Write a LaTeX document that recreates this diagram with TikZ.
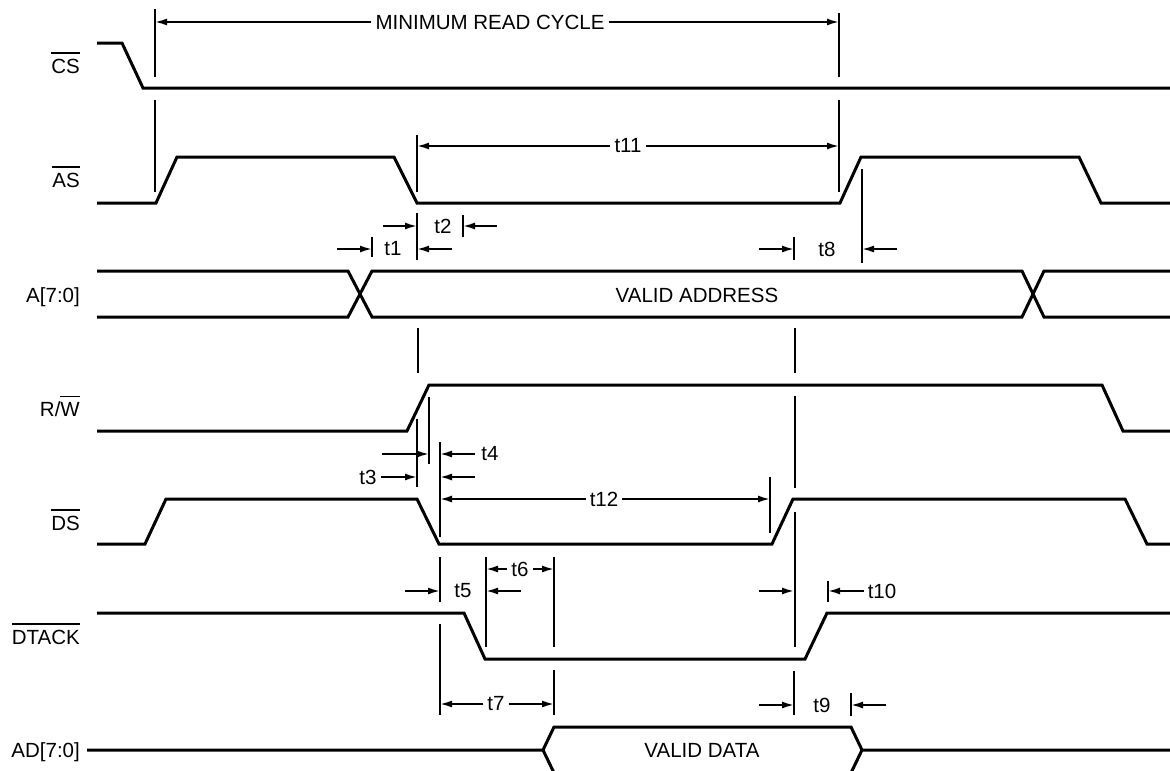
\documentclass[tikz,border=0pt]{standalone}
\usepackage{fontspec}
\setmainfont{Liberation Sans}
\usetikzlibrary{arrows.meta}
\newcommand{\ovl}[1]{\vbox{\hrule height 1.8pt\kern 4.5pt\hbox{#1}}}

\begin{document}
\begin{tikzpicture}[x=1pt, y=-1pt,
  sig/.style={line width=3pt},
  tick/.style={line width=1.8pt},
  dim/.style={line width=1.8pt, -{Latex[length=12pt,width=7pt]}},
  lbl/.style={anchor=base east, inner sep=0pt, font=\fontsize{20.5}{24}\selectfont},
  tlbl/.style={inner sep=4pt, font=\fontsize{20.5}{24}\selectfont}]

\useasboundingbox (0,0) rectangle (1170,771);

% signal names
\node[lbl] (cs) at (80,73) {\ovl{CS}};
\node[lbl] (as) at (80,187) {\ovl{AS}};
\node[lbl] (addr) at (80,302) {A[7:0]};
\node[lbl] (rw) at (80,416) {R/\ovl{W}};
\node[lbl] (ds) at (80,530) {\ovl{DS}};
\node[lbl] (dtack) at (80,644) {\ovl{DTACK}};
\node[lbl] (ad) at (80,757) {AD[7:0]};

% waveforms
\draw[sig] (97,43) -- (122,43) -- (143,88) -- (1170,88);
\draw[sig] (97,203) -- (156,203) -- (177,157) -- (394,157) -- (417,203)
  -- (840,203) -- (861,157) -- (1079,157) -- (1101,203) -- (1170,203);
\draw[sig] (97,271) -- (348,271) -- (372,317) -- (1022,317) -- (1044,271) -- (1170,271);
\draw[sig] (97,317) -- (348,317) -- (372,271) -- (1022,271) -- (1044,317) -- (1170,317);
\draw[sig] (97,431) -- (407,431) -- (429,385) -- (1102,385) -- (1123,431) -- (1170,431);
\draw[sig] (97,544) -- (145,544) -- (166,499) -- (417,499) -- (439,544)
  -- (772,544) -- (793,499) -- (1125,499) -- (1147,544) -- (1170,544);
\draw[sig] (97,613) -- (464,613) -- (485,659) -- (805,659) -- (827,613) -- (1170,613);
\draw[sig] (87,750) -- (543,750) -- (554,727) -- (851,727) -- (862,750) -- (1170,750);
\draw[sig] (543,750) -- (555.5,776);
\draw[sig] (862,750) -- (849.5,776);

\node[tlbl] (va) at (697,295) {VALID ADDRESS};
\node[tlbl] (vd) at (702,750) {VALID DATA};

% reference lines
\foreach \x/\ya/\yb in {155/9/77, 155/100/192, 839/13/77, 839/100/192,
    417/135/192, 417/213/260, 372/237/257, 463/215/237, 794/237/260,
    862/169/263, 418/328/373, 795/328/373, 795/396/488, 795/512/647,
    417/419/487, 429/397/464, 440/442/537, 440/557/602, 440/624/715,
    770/477/533, 486/557/647, 554/557/647, 554/670/715, 828/581/602,
    794/671/715, 851/693/716}
  \draw[tick] (\x,\ya) -- (\x,\yb);

% timing labels
\node[tlbl] (mrc) at (490,22) {MINIMUM READ CYCLE};
\draw[dim] (mrc.west) -- (155,22);
\draw[dim] (mrc.east) -- (839,22);

\node[tlbl] (t11) at (628,146) {t11};
\draw[dim] (t11.west) -- (417,146);
\draw[dim] (t11.east) -- (839,146);

\node[tlbl] (t2) at (443,226) {t2};
\draw[dim] (383,226) -- (417,226);
\draw[dim] (497,226) -- (463,226);

\node[tlbl] (t1) at (393,249) {t1};
\draw[dim] (337,249) -- (372,249);
\draw[dim] (452,249) -- (417,249);

\node[tlbl] (t8) at (827,249) {t8};
\draw[dim] (759,249) -- (794,249);
\draw[dim] (897,249) -- (862,249);

\node[tlbl] (t4) at (490,454) {t4};
\draw[dim] (382,454) -- (429,454);
\draw[dim] (475,454) -- (440,454);

\node[tlbl] (t3) at (368,477) {t3};
\draw[dim] (t3.east) -- (417,477);
\draw[dim] (475,477) -- (440,477);

\node[tlbl] (t12) at (604,499) {t12};
\draw[dim] (t12.west) -- (440,499);
\draw[dim] (t12.east) -- (770,499);

\node[tlbl] (t6) at (520,569) {t6};
\draw[dim] (t6.west) -- (486,569);
\draw[dim] (t6.east) -- (554,569);

\node[tlbl] (t5) at (463,591) {t5};
\draw[dim] (405,591) -- (440,591);
\draw[dim] (521,591) -- (486,591);

\node[tlbl] (t10) at (882,591) {t10};
\draw[dim] (759,591) -- (794,591);
\draw[dim] (t10.west) -- (828,591);

\node[tlbl] (t7) at (496,704) {t7};
\draw[dim] (t7.west) -- (440,704);
\draw[dim] (t7.east) -- (554,704);

\node[tlbl] (t9) at (822,705) {t9};
\draw[dim] (759,705) -- (794,705);
\draw[dim] (886,705) -- (851,705);

\end{tikzpicture}
\end{document}
